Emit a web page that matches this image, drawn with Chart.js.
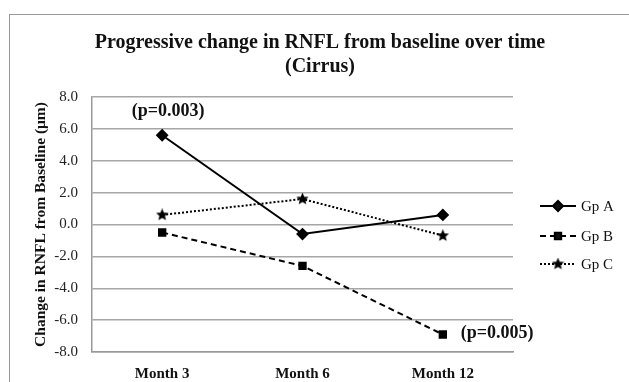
<!DOCTYPE html>
<html>
<head>
<meta charset="utf-8">
<script src="https://cdn.jsdelivr.net/npm/chart.js@4.4.0/dist/chart.umd.min.js"></script>
<style>
  html, body { margin: 0; padding: 0; background: #fff; overflow: hidden; }
  #wrap { position: relative; width: 629px; height: 382px; }
  #frame { position: absolute; left: 9px; top: 14px; width: 700px; height: 450px; border: 1.5px solid #999; }
  canvas { position: absolute; left: 0; top: 0; }
</style>
</head>
<body>
<div id="wrap">
  <div id="frame"></div>
  <canvas id="rnflChart" width="629" height="382"></canvas>
</div>
<script>
// data
const months = ["Month 3", "Month 6", "Month 12"];
const gpA = [5.6, -0.6, 0.6];
const gpB = [-0.5, -2.6, -6.9];
const gpC = [0.6, 1.6, -0.7];
const groupNames = ["Gp A", "Gp B", "Gp C"];
const yTicks = [-8, -6, -4, -2, 0, 2, 4, 6, 8];
const titleLines = ["Progressive change in RNFL from baseline over time", "(Cirrus)"];
const pNotes = [
  { group: 0, index: 0, text: "(p=0.003)" },
  { group: 1, index: 2, text: "(p=0.005)" }
];

const serif = "'Liberation Serif', 'DejaVu Serif', serif";

// filled star marker for Gp C
function makeStar(size) {
  const c = document.createElement("canvas");
  c.width = size; c.height = size;
  const g = c.getContext("2d");
  const cx = size / 2, cy = size / 2, R = size / 2, r = R * 0.45;
  g.beginPath();
  for (let i = 0; i < 10; i++) {
    const rad = i % 2 === 0 ? R : r;
    const a = -Math.PI / 2 + i * Math.PI / 5;
    g.lineTo(cx + rad * Math.cos(a), cy + rad * Math.sin(a));
  }
  g.closePath();
  g.fillStyle = "#000";
  g.fill();
  return c;
}
const star = makeStar(13);

const extras = {
  id: "extras",
  afterDraw(chart) {
    const ctx = chart.ctx;
    ctx.save();
    // title, centred on the whole frame
    ctx.fillStyle = "#111";
    ctx.font = "bold 20px " + serif;
    ctx.textAlign = "center";
    ctx.textBaseline = "middle";
    ctx.fillText(titleLines[0], 320, 43);
    ctx.fillText(titleLines[1], 320, 67);

    // p-value notes next to their points
    ctx.font = "bold 18px " + serif;
    pNotes.forEach(n => {
      const pt = chart.getDatasetMeta(n.group).data[n.index];
      if (n.group === 0) {
        ctx.textAlign = "center";
        ctx.fillText(n.text, pt.x + 6, pt.y - 24);
      } else {
        ctx.textAlign = "left";
        ctx.fillText(n.text, pt.x + 18, pt.y - 1);
      }
    });

    // legend: line with marker in the middle
    const lx = 540, lw = 36, ly = [206, 236, 264];
    chart.data.datasets.forEach((ds, i) => {
      const y = ly[i];
      ctx.beginPath();
      ctx.setLineDash(ds.borderDash || []);
      ctx.lineWidth = ds.borderWidth;
      ctx.strokeStyle = ds.borderColor;
      ctx.moveTo(lx, y);
      ctx.lineTo(lx + lw, y);
      ctx.stroke();
      ctx.setLineDash([]);
      Chart.helpers.drawPoint(ctx, {
        pointStyle: ds.pointStyle,
        radius: ds.pointRadius,
        borderWidth: 1
      }, lx + lw / 2, y);
      ctx.fillStyle = "#111";
      ctx.font = "15px " + serif;
      ctx.textAlign = "left";
      ctx.textBaseline = "middle";
      ctx.fillText(ds.label, lx + lw + 5, y + 1);
    });
    ctx.restore();
  }
};

function series(label, data, dash, style, radius) {
  return {
    label: label,
    data: data,
    borderColor: "#000",
    backgroundColor: "#000",
    pointBackgroundColor: "#000",
    pointBorderColor: "#000",
    borderWidth: 2,
    borderDash: dash,
    pointStyle: style,
    pointRadius: radius,
    tension: 0
  };
}

new Chart(document.getElementById("rnflChart"), {
  type: "line",
  data: {
    labels: months,
    datasets: [
      series(groupNames[0], gpA, [], "rectRot", 5),
      series(groupNames[1], gpB, [6, 4], "rect", 4.5),
      series(groupNames[2], gpC, [2, 2], star, 6)
    ]
  },
  options: {
    responsive: false,
    animation: false,
    layout: { padding: { left: 0, right: 116, top: 97, bottom: 0 } },
    plugins: {
      legend: { display: false },
      tooltip: { enabled: false },
      title: { display: false }
    },
    scales: {
      x: {
        offset: true,
        grid: { display: false, drawTicks: false },
        border: { display: true, color: "#999", width: 1.5 },
        ticks: { color: "#111", padding: 13, font: { family: serif, size: 15, weight: "bold" } },
        afterFit(scale) { scale.height = 30; }
      },
      y: {
        min: -8,
        max: 8,
        afterBuildTicks(scale) { scale.ticks = yTicks.map(v => ({ value: v })); },
        grid: { color: "#a6a6a6", lineWidth: 1.5, drawTicks: false },
        border: { display: true, color: "#999", width: 1.5 },
        ticks: {
          color: "#222",
          padding: 14,
          font: { family: serif, size: 15 },
          callback: v => v.toFixed(1)
        },
        title: {
          display: true,
          text: "Change in RNFL from Baseline (\u03bcm)",
          color: "#111",
          font: { family: serif, size: 15.5, weight: "bold" },
          padding: { top: 32, bottom: 0 }
        },
        afterFit(scale) { scale.width = 92; }
      }
    }
  },
  plugins: [extras]
});
</script>
</body>
</html>
